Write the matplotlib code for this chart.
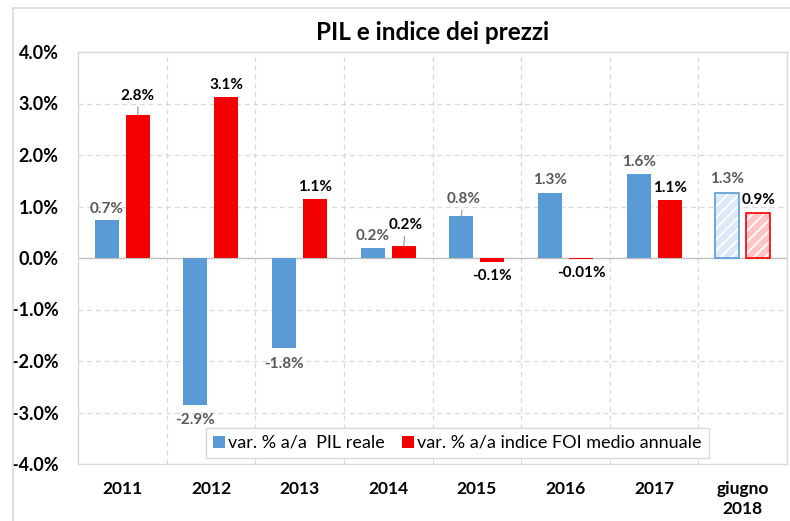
import numpy as np
import matplotlib
matplotlib.use("Agg")
import matplotlib.pyplot as plt
from matplotlib.patches import Rectangle, Patch

plt.rcParams["font.family"] = ["Lato", "DejaVu Sans"]
plt.rcParams["hatch.linewidth"] = 1.3

categories = ["2011", "2012", "2013", "2014", "2015", "2016", "2017", "giugno\n2018"]
pil_reale = [0.74, -2.85, -1.75, 0.19, 0.81, 1.27, 1.64, 1.27]
foi_medio = [2.78, 3.13, 1.15, 0.23, -0.08, -0.01, 1.12, 0.88]
pil_labels = ["0.7%", "-2.9%", "-1.8%", "0.2%", "0.8%", "1.3%", "1.6%", "1.3%"]
foi_labels = ["2.8%", "3.1%", "1.1%", "0.2%", "-0.1%", "-0.01%", "1.1%", "0.9%"]
series_names = ["var. % a/a  PIL reale", "var. % a/a indice FOI medio annuale"]

BLUE = "#5B9BD5"
RED = "#F50000"
BLUE_LIGHT = "#dde9f6"
RED_LIGHT = "#ffc4c4"
GRID = "#d9d9d9"

# label offsets in pixels (dx, dy) and whether a leader line is drawn
pil_offsets = [(0, 11), (0, -15), (0, -16), (0, 12), (2, 17), (0, 13), (0, 12), (0, 14)]
foi_offsets = [(0, 19), (0, 12), (0, 12), (2, 21), (0, -14), (0, -14), (0, 12), (0, 13)]
pil_leader = [False, False, False, False, True, False, False, False]
foi_leader = [True, False, False, True, False, False, False, False]

fig = plt.figure(figsize=(7.9, 5.21), dpi=100)
fig.patches.append(Rectangle((13 / 790, -0.05), 1.2, (521 - 8) / 521 + 0.05,
                             transform=fig.transFigure, fill=False,
                             edgecolor=GRID, linewidth=1.2, zorder=0))
ax = fig.add_axes([78 / 790, 57 / 521, 709 / 790, 412 / 521])

x = np.arange(len(categories))
off, w = 0.175, 0.27
n_solid = len(categories) - 1

ax.bar(x[:n_solid] - off, pil_reale[:n_solid], w, color=BLUE, zorder=3)
ax.bar(x[:n_solid] + off, foi_medio[:n_solid], w, color=RED, zorder=3)

# last category: provisional values, hatched bars
ax.bar(x[-1] - off, pil_reale[-1], w, color=BLUE_LIGHT, hatch="///", edgecolor="white", linewidth=0, zorder=3)
ax.bar(x[-1] - off, pil_reale[-1], w, fill=False, edgecolor=BLUE, linewidth=1.2, zorder=4)
ax.bar(x[-1] + off, foi_medio[-1], w, color=RED_LIGHT, hatch="///", edgecolor="white", linewidth=0, zorder=3)
ax.bar(x[-1] + off, foi_medio[-1], w, fill=False, edgecolor=RED, linewidth=1.2, zorder=4)


def add_labels(xs, values, labels, offsets, leaders, color):
    for xi, v, lab, (dx, dy), lead in zip(xs, values, labels, offsets, leaders):
        arrow = None
        if lead:
            arrow = dict(arrowstyle="-", color="#a6a6a6", lw=1, shrinkA=1, shrinkB=0)
        ax.annotate(lab, xy=(xi, v), xytext=(dx, dy), textcoords="offset pixels",
                    ha="center", va="center", fontsize=11, fontweight="bold",
                    color=color, arrowprops=arrow, zorder=5)


add_labels(x - off, pil_reale, pil_labels, pil_offsets, pil_leader, "#595959")
add_labels(x + off, foi_medio, foi_labels, foi_offsets, foi_leader, "black")

ax.set_xlim(-0.5, len(categories) - 0.5)
ax.set_ylim(-4, 4)
ax.set_yticks(np.arange(-4, 4.1, 1))
ax.set_yticklabels([f"{t:.1f}%" for t in np.arange(-4, 4.1, 1)])
ax.set_xticks(x)
ax.set_xticklabels(categories, linespacing=1.3)
ax.tick_params(axis="y", length=0, labelsize=13, pad=14)
ax.tick_params(axis="x", length=0, labelsize=12.5, pad=12)
for lab in ax.get_xticklabels() + ax.get_yticklabels():
    lab.set_fontweight("bold")

for yv in np.arange(-3, 4, 1):
    if yv != 0:
        ax.axhline(yv, color=GRID, linestyle=(0, (4, 3)), linewidth=0.9, zorder=1)
for xv in np.arange(0.5, len(categories) - 0.5, 1):
    ax.axvline(xv, color=GRID, linestyle=(0, (4, 3)), linewidth=0.9, zorder=1)
ax.axhline(0, color="#bfbfbf", linewidth=1, zorder=2)

for s in ax.spines.values():
    s.set_color(GRID)
    s.set_linewidth(1)

ax.set_title("PIL e indice dei prezzi", fontsize=17.5, fontweight="bold", pad=9)

handles = [Patch(facecolor=BLUE, edgecolor="none"), Patch(facecolor=RED, edgecolor="none")]
leg = ax.legend(handles, series_names, loc="center", bbox_to_anchor=(0.535, 0.051),
                ncol=2, fontsize=13, frameon=True, fancybox=False, framealpha=1,
                handlelength=0.65, handleheight=0.65, handletextpad=0.15,
                columnspacing=1.0, borderpad=0.4)
leg.get_frame().set_edgecolor(GRID)
leg.get_frame().set_linewidth(1)
leg.set_zorder(6)

fig.savefig("out.png", dpi=100)
